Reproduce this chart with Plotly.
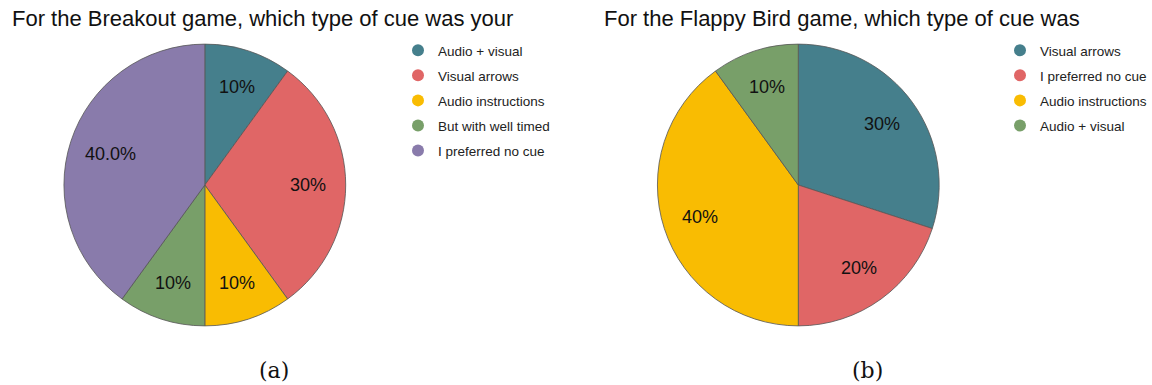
import math
import plotly.graph_objects as go

# Breakout survey: preferred cue type
breakout_labels = ["Audio + visual", "Visual arrows", "Audio instructions",
                   "But with well timed", "I preferred no cue"]
breakout_values = [10, 30, 10, 10, 40]
breakout_text = ["10%", "30%", "10%", "10%", "40.0%"]
breakout_colors = ["#457F8C", "#E06666", "#F9BC02", "#789F69", "#897BAB"]

# Flappy Bird survey: preferred cue type
flappy_labels = ["Visual arrows", "I preferred no cue", "Audio instructions", "Audio + visual"]
flappy_values = [30, 20, 40, 10]
flappy_text = ["30%", "20%", "40%", "10%"]
flappy_colors = ["#457F8C", "#E06666", "#F9BC02", "#789F69"]

W, H = 1152, 385
R = 141
SANS = "Liberation Sans, Arial, sans-serif"


def pie_domain(cx, cy, r):
    return dict(x=[(cx - r) / W, (cx + r) / W], y=[1 - (cy + r) / H, 1 - (cy - r) / H])


def slice_labels(vals, texts, cx, cy, r, frac=0.73):
    """Place each percentage label on the bisector of its slice (clockwise from 12 o'clock)."""
    total = float(sum(vals))
    out, start = [], 0.0
    for v, t in zip(vals, texts):
        mid = (start + v / 2.0) / total * 2 * math.pi
        start += v
        # wider labels sit a little further in so they stay clear of the rim
        f = frac - 0.012 * max(0, len(t) - 3)
        px = cx + f * r * math.sin(mid)
        py = cy - f * r * math.cos(mid)
        out.append(dict(text=t, x=px / W, y=1 - py / H, xref="paper", yref="paper",
                        xanchor="center", yanchor="middle", showarrow=False,
                        font=dict(family=SANS, size=18, color="#111111")))
    return out


fig = go.Figure()

pies = [
    (breakout_values, breakout_labels, breakout_colors, (205, 185)),
    (flappy_values, flappy_labels, flappy_colors, (799, 185)),
]
for vals, labs, cols, (cx, cy) in pies:
    fig.add_trace(go.Pie(
        values=vals, labels=labs, textinfo="none",
        sort=False, direction="clockwise", rotation=0,
        marker=dict(colors=cols, line=dict(color="#555555", width=0.8)),
        domain=pie_domain(cx, cy, R), showlegend=False, hoverinfo="label+percent",
    ))

# Legend entries drawn as circle markers
for i, (lab, col) in enumerate(zip(breakout_labels, breakout_colors)):
    fig.add_trace(go.Scatter(x=[None], y=[None], mode="markers", name=lab,
                             marker=dict(symbol="circle", size=12, color=col),
                             legend="legend", legendgroup="b%d" % i))
for i, (lab, col) in enumerate(zip(flappy_labels, flappy_colors)):
    fig.add_trace(go.Scatter(x=[None], y=[None], mode="markers", name=lab,
                             marker=dict(symbol="circle", size=12, color=col),
                             legend="legend2", legendgroup="f%d" % i))

legend_style = dict(font=dict(family=SANS, size=13.5, color="#222222"),
                    bgcolor="rgba(0,0,0,0)", tracegroupgap=4.5,
                    xanchor="left", yanchor="top", itemclick=False)

annotations = [
    dict(text="For the Breakout game, which type of cue was your", x=10 / W, y=1 - 4 / H,
         xref="paper", yref="paper", xanchor="left", yanchor="top", showarrow=False,
         font=dict(family=SANS, size=22, color="#111111")),
    dict(text="For the Flappy Bird game, which type of cue was", x=603 / W, y=1 - 4 / H,
         xref="paper", yref="paper", xanchor="left", yanchor="top", showarrow=False,
         font=dict(family=SANS, size=22, color="#111111")),
    dict(text="(a)", x=274 / W, y=1 - 370 / H, xref="paper", yref="paper",
         xanchor="center", yanchor="middle", showarrow=False,
         font=dict(family="DejaVu Serif, serif", size=22, color="#111111")),
    dict(text="(b)", x=868 / W, y=1 - 370 / H, xref="paper", yref="paper",
         xanchor="center", yanchor="middle", showarrow=False,
         font=dict(family="DejaVu Serif, serif", size=22, color="#111111")),
]
annotations += slice_labels(breakout_values, breakout_text, 205, 185, R)
annotations += slice_labels(flappy_values, flappy_text, 799, 185, R)

fig.update_layout(
    width=W, height=H,
    margin=dict(l=0, r=0, t=0, b=0),
    paper_bgcolor="white", plot_bgcolor="white",
    xaxis=dict(visible=False, domain=[0, 0.01]),
    yaxis=dict(visible=False, domain=[0, 0.01]),
    legend=dict(x=398 / W, y=1 - 35 / H, **legend_style),
    legend2=dict(x=1001 / W, y=1 - 35 / H, **legend_style),
    annotations=annotations,
)

fig.write_html("out.html")
